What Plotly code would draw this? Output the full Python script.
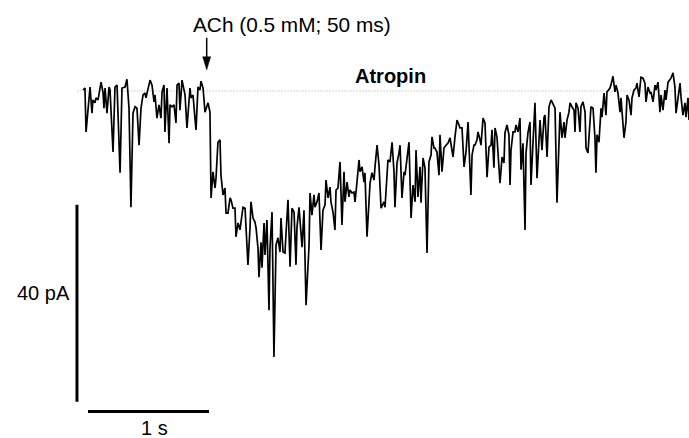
import plotly.graph_objects as go

# Whole-cell current trace (time in s, current in pA)
time_s = [
    0.025, 0.041, 0.050, 0.074, 0.083, 0.099, 0.107, 0.124, 0.132, 0.149,
    0.165, 0.174, 0.190, 0.198, 0.207, 0.223, 0.240, 0.248, 0.273, 0.289,
    0.306, 0.331, 0.347, 0.372, 0.388, 0.397, 0.405, 0.421, 0.438, 0.455,
    0.471, 0.488, 0.504, 0.521, 0.537, 0.545, 0.570, 0.579, 0.595, 0.612,
    0.620, 0.636, 0.653, 0.669, 0.678, 0.694, 0.702, 0.719, 0.736, 0.744,
    0.760, 0.777, 0.793, 0.802, 0.818, 0.826, 0.843, 0.868, 0.884, 0.909,
    0.917, 0.934, 0.950, 0.959, 0.975, 0.992, 1.000, 1.017, 1.033, 1.041,
    1.058, 1.074, 1.083, 1.099, 1.116, 1.124, 1.140, 1.157, 1.165, 1.182,
    1.198, 1.207, 1.223, 1.240, 1.248, 1.264, 1.281, 1.289, 1.306, 1.322,
    1.331, 1.347, 1.364, 1.372, 1.388, 1.405, 1.413, 1.430, 1.446, 1.455,
    1.471, 1.479, 1.496, 1.504, 1.521, 1.529, 1.545, 1.562, 1.570, 1.587,
    1.603, 1.620, 1.636, 1.653, 1.661, 1.678, 1.694, 1.702, 1.719, 1.736,
    1.752, 1.769, 1.785, 1.793, 1.810, 1.818, 1.835, 1.851, 1.868, 1.893,
    1.901, 1.917, 1.934, 1.942, 1.959, 1.975, 1.992, 2.008, 2.025, 2.033,
    2.050, 2.066, 2.074, 2.091, 2.107, 2.116, 2.132, 2.149, 2.165, 2.182,
    2.190, 2.207, 2.223, 2.231, 2.248, 2.264, 2.273, 2.289, 2.306, 2.314,
    2.331, 2.347, 2.355, 2.372, 2.388, 2.397, 2.413, 2.430, 2.438, 2.455,
    2.471, 2.488, 2.512, 2.521, 2.545, 2.562, 2.579, 2.595, 2.603, 2.620,
    2.636, 2.645, 2.661, 2.678, 2.686, 2.702, 2.719, 2.736, 2.752, 2.769,
    2.777, 2.793, 2.810, 2.818, 2.835, 2.851, 2.868, 2.884, 2.901, 2.909,
    2.926, 2.934, 2.950, 2.967, 2.975, 2.992, 3.008, 3.025, 3.041, 3.058,
    3.066, 3.083, 3.099, 3.116, 3.132, 3.140, 3.157, 3.174, 3.190, 3.207,
    3.231, 3.240, 3.256, 3.264, 3.281, 3.289, 3.306, 3.314, 3.331, 3.347,
    3.364, 3.380, 3.397, 3.405, 3.421, 3.430, 3.446, 3.463, 3.471, 3.488,
    3.504, 3.512, 3.529, 3.545, 3.554, 3.562, 3.579, 3.595, 3.603, 3.620,
    3.636, 3.645, 3.661, 3.678, 3.686, 3.702, 3.719, 3.727, 3.744, 3.760,
    3.777, 3.793, 3.802, 3.818, 3.835, 3.843, 3.860, 3.876, 3.893, 3.901,
    3.926, 3.942, 3.959, 3.967, 3.983, 4.000, 4.008, 4.025, 4.041, 4.050,
    4.066, 4.083, 4.091, 4.099, 4.116, 4.132, 4.140, 4.157, 4.174, 4.182,
    4.198, 4.215, 4.223, 4.240, 4.256, 4.264, 4.273, 4.289, 4.306, 4.314,
    4.331, 4.347, 4.355, 4.380, 4.388, 4.405, 4.421, 4.430, 4.446, 4.463,
    4.471, 4.496, 4.512, 4.521, 4.537, 4.554, 4.562, 4.579, 4.595, 4.603,
    4.620, 4.636, 4.653, 4.669, 4.678, 4.694, 4.711, 4.719, 4.736, 4.752,
    4.760, 4.777, 4.793, 4.802, 4.818, 4.835, 4.843, 4.860, 4.876, 4.884,
    4.901, 4.917, 4.926, 4.942, 4.959, 4.967, 4.983, 5.000, 5.008, 5.025,
    5.033,
]

current_pA = [
    0.2, 0.6, -8.3, -0.8, 0.8, -4.5, -1.8, -2.4, -1.4, -1.8,
    0.8, 1.8, -0.2, -3.5, 0.6, -4.5, 0.8, 0.2, -12.4, 0.8,
    1.2, -16.6, 0.6, 0.8, 2.4, -0.8, -3.5, -23.6, -4.5, -3.2,
    -3.5, -11.0, -3.5, -0.8, -0.4, -1.4, 1.8, 2.2, 1.2, -2.2,
    -0.8, -5.5, -2.8, -5.5, -0.2, 1.2, -8.3, 0.6, -10.6, -2.8,
    -3.2, -2.8, -6.5, 1.2, 1.6, -3.9, 2.2, -0.8, -7.5, 0.6,
    -1.4, -0.8, -5.5, -7.9, 0.8, 0.2, 2.0, 0.6, -4.3, -3.5,
    -2.4, -4.3, -21.7, -16.4, -19.7, -17.7, -10.4, -9.9, -17.1, -21.1,
    -19.7, -24.8, -24.8, -21.7, -22.1, -23.8, -23.8, -29.6, -26.8, -28.2,
    -26.6, -23.6, -23.8, -28.6, -35.3, -27.8, -22.5, -25.8, -26.6, -27.8,
    -31.9, -37.8, -30.7, -35.9, -26.8, -33.3, -26.2, -44.5, -31.9, -24.6,
    -54.0, -31.3, -29.8, -32.7, -25.8, -32.7, -32.9, -29.2, -22.1, -35.7,
    -23.8, -24.6, -35.3, -27.8, -23.6, -26.2, -31.7, -24.2, -43.5, -31.3,
    -20.7, -25.2, -21.1, -23.6, -22.5, -20.7, -32.3, -24.2, -23.1, -18.1,
    -21.7, -19.5, -22.5, -24.6, -28.2, -20.1, -19.7, -14.4, -27.2, -16.4,
    -22.5, -18.5, -21.5, -20.1, -20.7, -20.5, -22.5, -18.5, -14.0, -16.4,
    -15.4, -18.5, -16.6, -29.6, -21.5, -18.7, -16.6, -18.1, -15.4, -11.0,
    -15.0, -23.8, -22.5, -23.6, -14.0, -14.4, -10.4, -16.4, -23.6, -14.6,
    -12.6, -11.0, -21.7, -16.4, -17.1, -13.6, -10.4, -25.8, -19.1, -22.5,
    -12.0, -21.5, -15.4, -22.7, -13.6, -15.6, -32.9, -14.4, -13.0, -9.3,
    -11.6, -11.6, -12.4, -17.1, -8.9, -16.4, -11.6, -11.0, -10.6, -9.5,
    -10.6, -13.4, -9.3, -5.9, -6.9, -7.5, -7.5, -15.4, -12.4, -6.3,
    -21.1, -13.0, -11.0, -11.0, -9.9, -8.3, -9.9, -11.0, -5.5, -6.5,
    -17.5, -11.4, -11.0, -7.9, -15.6, -7.5, -9.3, -16.0, -18.7, -13.4,
    -14.6, -8.5, -6.9, -8.9, -19.1, -12.0, -8.3, -8.3, -6.9, -8.3,
    -5.5, -16.0, -10.6, -28.2, -12.6, -8.5, -6.3, -19.1, -11.0, -2.4,
    -17.7, -8.3, -5.9, -12.0, -5.3, -4.9, -13.4, -3.2, -1.8, -2.2,
    -3.5, -22.7, -6.5, -4.3, -9.5, -6.3, -9.5, -5.9, -4.3, -2.4,
    -3.2, -3.9, -8.3, -2.4, -3.5, -8.3, -3.2, -2.2, -4.3, -11.6,
    -12.6, -5.9, -3.2, -3.5, -9.5, -16.6, -8.9, -10.4, -3.5, -5.3,
    -0.4, -4.9, -0.2, 0.6, 1.2, 3.0, -0.2, 1.2, -0.4, -4.3,
    -1.4, -9.5, -6.3, -0.8, -1.8, -4.9, -1.4, 0.2, 0.6, 1.6,
    -1.2, 2.8, 2.6, 1.6, -2.2, 0.8, -0.4, -0.2, -2.2, 1.2,
    0.2, 1.8, -4.3, -0.8, -3.9, 0.2, -1.8, 1.8, 2.2, 2.6,
    3.7, 0.8, -4.5, -1.4, 1.6, -1.2, -4.9, -2.4, -5.3, -1.4,
    -5.9,
]

# Annotation values
ach_time_s = 1.047          # time of the ACh puff (arrow)
ach_label = "ACh (0.5 mM; 50 ms)"
condition_label = "Atropin"
baseline_pA = 0.0
scale_time_s = 1.0
scale_current_pA = 40.0
scale_time_label = "1 s"
scale_current_label = "40 pA"

# Layout placement (axis units)
x_range = [-0.6612, 5.0331]
y_range = [-70.46, 18.48]
vbar_x = -0.025
vbar_top = -23.1
hbar_x0 = 0.066
hbar_y = -65.1
arrow_tip_pA = 4.3
FONT = "Arial, 'Liberation Sans', Helvetica, sans-serif"

fig = go.Figure()

# dotted baseline
fig.add_trace(go.Scatter(
    x=[-0.02, x_range[1]], y=[baseline_pA, baseline_pA], mode="lines",
    line=dict(color="#a8a8a8", width=1, dash="1px,2px"),
    hoverinfo="skip", showlegend=False))

# current trace
fig.add_trace(go.Scatter(
    x=time_s, y=current_pA, mode="lines",
    line=dict(color="black", width=1.7),
    showlegend=False))

# scale bars
fig.add_trace(go.Scatter(
    x=[vbar_x, vbar_x], y=[vbar_top, vbar_top - scale_current_pA], mode="lines",
    line=dict(color="black", width=3), hoverinfo="skip", showlegend=False))
fig.add_trace(go.Scatter(
    x=[hbar_x0, hbar_x0 + scale_time_s], y=[hbar_y, hbar_y], mode="lines",
    line=dict(color="black", width=3), hoverinfo="skip", showlegend=False))

# ACh arrow (shaft + head), anchored in data coords, sized in pixels
fig.add_shape(type="line", xsizemode="pixel", ysizemode="pixel",
              xanchor=ach_time_s, yanchor=arrow_tip_pA, xref="x", yref="y",
              x0=0, x1=0, y0=12, y1=32, line=dict(color="black", width=1.5))
fig.add_shape(type="path", xsizemode="pixel", ysizemode="pixel",
              xanchor=ach_time_s, yanchor=arrow_tip_pA, xref="x", yref="y",
              path="M0,0 L-4,13 L4,13 Z", fillcolor="black",
              line=dict(color="black", width=0.5))

annotations = [
    dict(x=ach_time_s, y=13.6, xref="x", yref="y", text=ach_label,
         xanchor="left", yanchor="middle", xshift=-16, showarrow=False,
         font=dict(family=FONT, size=20.8, color="black")),
    dict(x=2.562, y=3.1, xref="x", yref="y", text="<b>" + condition_label + "</b>",
         xanchor="center", yanchor="middle", showarrow=False,
         font=dict(family=FONT, size=20, color="black")),
    dict(x=vbar_x, y=vbar_top - scale_current_pA / 2, xref="x", yref="y",
         text=scale_current_label, xanchor="right", yanchor="middle",
         xshift=-5, yshift=10, showarrow=False,
         font=dict(family=FONT, size=20, color="black")),
    dict(x=hbar_x0 + scale_time_s / 2, y=hbar_y, xref="x", yref="y",
         text=scale_time_label, xanchor="center", yanchor="top",
         xshift=6, yshift=-3, showarrow=False,
         font=dict(family=FONT, size=20, color="black")),
]

fig.update_layout(
    width=689, height=438, autosize=False,
    margin=dict(l=0, r=0, t=0, b=0, pad=0),
    paper_bgcolor="white", plot_bgcolor="white",
    xaxis=dict(range=x_range, visible=False, fixedrange=True),
    yaxis=dict(range=y_range, visible=False, fixedrange=True),
    annotations=annotations,
    font=dict(family=FONT),
)

fig.write_html("out.html")
